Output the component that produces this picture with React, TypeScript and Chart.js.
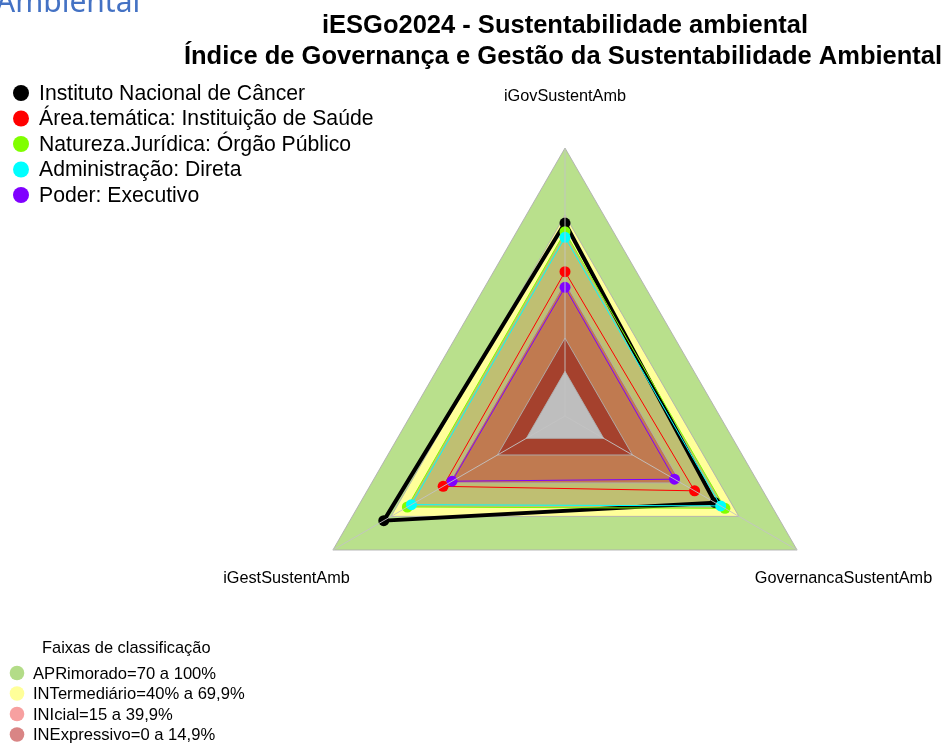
import { useEffect, useRef } from 'react';
import { Chart, registerables } from 'chart.js';

Chart.register(...registerables);

// ---- data ----
const pageHeading = 'Ambiental';
const titleLines = [
  'iESGo2024 - Sustentabilidade ambiental',
  'Índice de Governança e Gestão da Sustentabilidade Ambiental',
];
const axisLabels = ['iGovSustentAmb', 'GovernancaSustentAmb', 'iGestSustentAmb'];

const seriesNames = [
  'Instituto Nacional de Câncer',
  'Área.temática: Instituição de Saúde',
  'Natureza.Jurídica: Órgão Público',
  'Administração: Direta',
  'Poder: Executivo',
];
const seriesColors = ['#000000', '#ff0000', '#80ff00', '#00ffff', '#8000ff'];
const institutoValues = [66.4, 57.6, 73.7];
const areaTematicaValues = [44.6, 47.0, 43.0];
const naturezaValues = [62.5, 62.7, 61.5];
const administracaoValues = [60.0, 60.5, 59.4];
const poderValues = [37.6, 36.6, 38.4];

const bandTitle = 'Faixas de classificação';
const bandNames = [
  'APRimorado=70 a 100%',
  'INTermediário=40% a 69,9%',
  'INIcial=15 a 39,9%',
  'INExpressivo=0 a 14,9%',
];
const bandUpper = [100, 69.9, 39.9, 14.9];
const bandFill = ['#b9e08c', '#ffff99', '#c07a50', '#a5412d'];
const bandLegendColors = ['#b3dc88', '#ffff99', '#f7a0a0', '#d98585'];
const centerValue = 0;
const scaleMin = -20;
const scaleMax = 100;

export default function App() {
  const ref = useRef<HTMLCanvasElement | null>(null);

  useEffect(() => {
    if (!ref.current) return;
    const seriesData = [
      institutoValues,
      areaTematicaValues,
      naturezaValues,
      administracaoValues,
      poderValues,
    ];

    const datasets: any[] = [];
    bandUpper.forEach((v, i) => {
      datasets.push({
        label: bandNames[i],
        data: axisLabels.map(() => v),
        backgroundColor: bandFill[i],
        borderColor: 'rgba(175,175,175,0.9)',
        borderWidth: 1,
        pointRadius: 0,
        fill: 'start',
        order: i === 0 ? 30 : i === 1 ? 29 : 27 - i,
      });
    });
    datasets.push({
      label: 'overlay',
      data: naturezaValues,
      backgroundColor: 'rgba(0,0,0,0.25)',
      borderWidth: 0,
      borderColor: 'rgba(0,0,0,0)',
      pointRadius: 0,
      fill: 'start',
      order: 28,
    });
    datasets.push({
      label: 'center',
      data: axisLabels.map(() => centerValue),
      backgroundColor: '#bebebe',
      borderColor: 'rgba(175,175,175,0.9)',
      borderWidth: 1,
      pointRadius: 0,
      fill: 'start',
      order: 20,
    });
    seriesData.forEach((d, i) => {
      datasets.push({
        label: seriesNames[i],
        data: d,
        borderColor: seriesColors[i],
        backgroundColor: seriesColors[i],
        borderWidth: i === 0 ? 4 : 1,
        pointRadius: 5.5,
        pointBorderWidth: 0,
        pointBackgroundColor: seriesColors[i],
        fill: false,
        order: 10 - i,
      });
    });

    const textPlugin = {
      id: 'texts',
      afterDraw(chart: any) {
        const ctx = chart.ctx as CanvasRenderingContext2D;
        const scale = chart.scales.r;
        ctx.save();
        ctx.fillStyle = '#4472c4';
        ctx.font = '30px "Noto Sans"';
        ctx.textAlign = 'left';
        ctx.textBaseline = 'alphabetic';
        ctx.fillText(pageHeading, -4, 12);
        ctx.fillStyle = '#000';
        ctx.font = 'bold 25.5px "Liberation Sans"';
        ctx.textAlign = 'center';
        ctx.fillText(titleLines[0], 565, 33);
        ctx.fillText(titleLines[1], 563, 64);
        ctx.font = '16.3px "Liberation Sans"';
        ctx.textBaseline = 'middle';
        axisLabels.forEach((lab, i) => {
          const p = scale.getPointPosition(i, scale.drawingArea * 1.2);
          ctx.fillText(lab, p.x, p.y + 2);
        });
        ctx.textAlign = 'left';
        ctx.font = '21.2px "Liberation Sans"';
        seriesNames.forEach((name, i) => {
          const y = 93 + i * 25.5;
          ctx.beginPath();
          ctx.arc(21, y, 8, 0, Math.PI * 2);
          ctx.fillStyle = seriesColors[i];
          ctx.fill();
          ctx.fillStyle = '#000';
          ctx.fillText(name, 39, y + 1);
        });
        ctx.font = '16.4px "Liberation Sans"';
        ctx.fillText(bandTitle, 42, 648);
        ctx.font = '16.6px "Liberation Sans"';
        bandNames.forEach((name, i) => {
          const y = 673 + i * 20.5;
          ctx.beginPath();
          ctx.arc(17, y, 7.3, 0, Math.PI * 2);
          ctx.fillStyle = bandLegendColors[i];
          ctx.fill();
          ctx.fillStyle = '#000';
          ctx.fillText(name, 33, y + 1);
        });
        ctx.restore();
      },
    };

    const chart = new Chart(ref.current, {
      type: 'radar',
      data: { labels: axisLabels, datasets },
      options: {
        responsive: false,
        animation: false,
        layout: { padding: { left: 297, right: 113, top: 148, bottom: 59 } },
        plugins: {
          legend: { display: false },
          title: { display: false },
          tooltip: { enabled: false },
        },
        elements: { line: { tension: 0 } },
        scales: {
          r: {
            min: scaleMin,
            max: scaleMax,
            ticks: { display: false },
            grid: { display: false, z: 1 },
            border: { display: false },
            angleLines: { display: true, color: 'rgba(195,195,195,0.9)', lineWidth: 1 },
            pointLabels: { display: false },
          },
        },
      },
      plugins: [textPlugin],
    });
    return () => chart.destroy();
  }, []);

  return (
    <div style={{ position: 'fixed', left: 0, top: 0, width: 946, height: 743, background: '#fff' }}>
      <canvas ref={ref} width={946} height={743} />
    </div>
  );
}
